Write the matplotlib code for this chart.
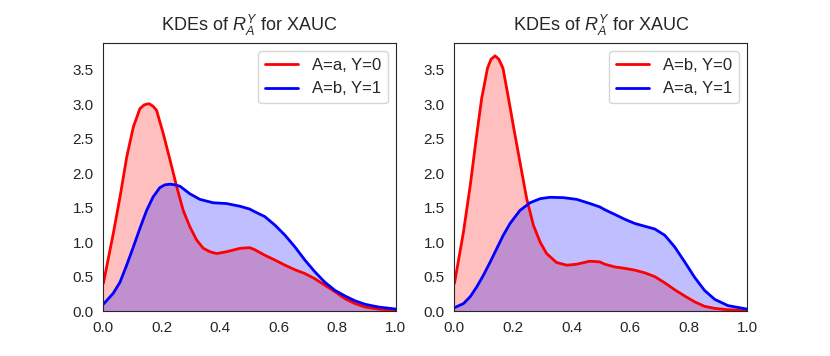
import numpy as np
import matplotlib
matplotlib.use('Agg')
import matplotlib.pyplot as plt
import seaborn as sns

# Curves (x, density)
left_red_x = [0.0, 0.034, 0.057, 0.080, 0.1025, 0.125, 0.14, 0.156, 0.17, 0.182, 0.205, 0.228, 0.251,
              0.273, 0.296, 0.319, 0.342, 0.365, 0.387, 0.42, 0.467, 0.50, 0.518, 0.552, 0.587,
              0.621, 0.655, 0.689, 0.723, 0.757, 0.792, 0.826, 0.86, 0.894, 0.94, 1.0]
left_red_y = [0.40, 1.125, 1.655, 2.234, 2.669, 2.935, 2.99, 3.007, 2.97, 2.91, 2.57, 2.19, 1.80,
              1.46, 1.22, 1.03, 0.91, 0.86, 0.835, 0.86, 0.91, 0.92, 0.89, 0.81, 0.74,
              0.666, 0.60, 0.545, 0.47, 0.376, 0.28, 0.18, 0.11, 0.06, 0.03, 0.01]

left_blue_x = [0.0, 0.034, 0.057, 0.080, 0.1025, 0.125, 0.148, 0.17, 0.193, 0.21, 0.228, 0.245,
               0.262, 0.296, 0.33, 0.376, 0.42, 0.467, 0.50, 0.518, 0.552, 0.587, 0.621, 0.655,
               0.689, 0.723, 0.757, 0.792, 0.826, 0.86, 0.894, 0.94, 1.0]
left_blue_y = [0.10, 0.26, 0.42, 0.67, 0.93, 1.20, 1.46, 1.655, 1.79, 1.83, 1.84, 1.83,
               1.81, 1.70, 1.62, 1.57, 1.56, 1.52, 1.48, 1.44, 1.37, 1.245, 1.10, 0.93,
               0.74, 0.57, 0.42, 0.30, 0.22, 0.15, 0.10, 0.06, 0.03]

right_red_x = [0.0, 0.031, 0.054, 0.076, 0.093, 0.113, 0.125, 0.139, 0.152, 0.166, 0.185, 0.205,
               0.224, 0.247, 0.27, 0.293, 0.315, 0.349, 0.384, 0.418, 0.463, 0.497, 0.514,
               0.549, 0.583, 0.617, 0.651, 0.685, 0.719, 0.753, 0.787, 0.821, 0.855, 0.89,
               0.935, 1.0]
right_red_y = [0.40, 1.15, 1.82, 2.55, 3.08, 3.52, 3.65, 3.70, 3.65, 3.52, 3.08, 2.60,
               2.16, 1.63, 1.245, 1.00, 0.835, 0.705, 0.666, 0.68, 0.724, 0.714, 0.68,
               0.64, 0.62, 0.594, 0.555, 0.50, 0.41, 0.31, 0.22, 0.135, 0.07, 0.04,
               0.02, 0.01]

right_blue_x = [0.0, 0.031, 0.054, 0.076, 0.099, 0.122, 0.145, 0.167, 0.19, 0.224, 0.258, 0.293,
                0.327, 0.372, 0.418, 0.463, 0.497, 0.514, 0.549, 0.583, 0.617, 0.651, 0.685,
                0.719, 0.753, 0.787, 0.821, 0.855, 0.89, 0.935, 1.0]
right_blue_y = [0.05, 0.11, 0.21, 0.35, 0.52, 0.71, 0.91, 1.10, 1.27, 1.46, 1.57, 1.63,
                1.65, 1.645, 1.62, 1.56, 1.51, 1.47, 1.40, 1.33, 1.27, 1.23, 1.19,
                1.10, 0.93, 0.714, 0.49, 0.30, 0.17, 0.08, 0.03]

panels = [
    (left_red_x, left_red_y, 'A=a, Y=0', left_blue_x, left_blue_y, 'A=b, Y=1'),
    (right_red_x, right_red_y, 'A=b, Y=0', right_blue_x, right_blue_y, 'A=a, Y=1'),
]

sns.set_style('white')
plt.rcParams['font.family'] = ['Liberation Sans', 'DejaVu Sans']
plt.rcParams['mathtext.fontset'] = 'custom'
plt.rcParams['mathtext.it'] = 'Liberation Sans:italic'
plt.rcParams['mathtext.rm'] = 'Liberation Sans'

fig, axes = plt.subplots(1, 2, figsize=(8.3, 3.56), dpi=100, sharey=True)
fig.subplots_adjust(left=0.1245, right=0.9, bottom=0.126, top=0.879, wspace=0.2)

for ax, (rx, ry, rlab, bx, by, blab) in zip(axes, panels):
    ax.plot(rx, ry, color='red', lw=2, label=rlab, solid_joinstyle='round')
    ax.fill_between(rx, ry, color='red', alpha=0.25, lw=0)
    ax.plot(bx, by, color='blue', lw=2, label=blab, solid_joinstyle='round')
    ax.fill_between(bx, by, color='blue', alpha=0.25, lw=0)
    ax.set_xlim(0, 1)
    ax.set_ylim(0, 3.885)
    ax.set_xticks(np.arange(0, 1.01, 0.2))
    ax.set_yticks(np.arange(0, 3.51, 0.5))
    ax.tick_params(labelsize=11, labelleft=True)
    ax.set_title(r'KDEs of $R_A^Y$ for XAUC', fontsize=13, pad=9)
    ax.legend(loc='upper right', fontsize=12)
    for s in ax.spines.values():
        s.set_color('0.15')

fig.savefig('out.png', dpi=100)
